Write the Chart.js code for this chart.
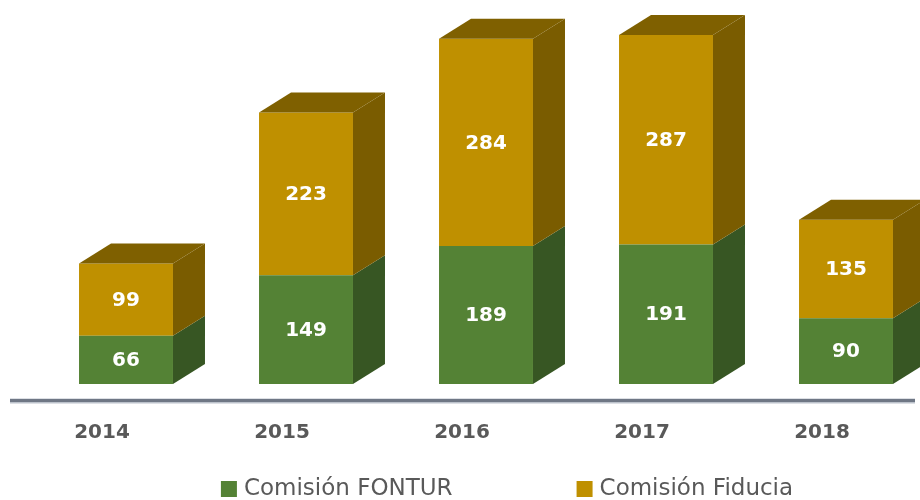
<!DOCTYPE html>
<html>
<head>
<meta charset="utf-8">
<script src="https://cdn.jsdelivr.net/npm/chart.js@4/dist/chart.umd.min.js"></script>
<style>
  html, body { margin: 0; padding: 0; background: #fff; overflow: hidden; }
</style>
</head>
<body>
<canvas id="cuadro" width="960" height="500"></canvas>
<script>
const years = ['2014', '2015', '2016', '2017', '2018'];
const fontur = [66, 149, 189, 191, 90];
const fiducia = [99, 223, 284, 287, 135];
const seriesNames = ['Comisión FONTUR', 'Comisión Fiducia'];

const frontColors = ['#548235', '#bf9000'];
const sideColors = ['#375623', '#7a5c00'];
const topColor = '#7f6000';
const depthX = 32, depthY = -20;

// caras laterales y superior para el efecto 3D
const cubos = {
  id: 'cubos',
  afterDatasetsDraw(chart) {
    const ctx = chart.ctx;
    const last = chart.data.datasets.length - 1;
    chart.data.datasets.forEach((ds, i) => {
      const meta = chart.getDatasetMeta(i);
      meta.data.forEach((bar) => {
        const p = bar.getProps(['x', 'y', 'base', 'width'], true);
        const left = p.x - p.width / 2, right = p.x + p.width / 2;
        ctx.save();
        ctx.fillStyle = sideColors[i];
        ctx.beginPath();
        ctx.moveTo(right, p.y);
        ctx.lineTo(right + depthX, p.y + depthY);
        ctx.lineTo(right + depthX, p.base + depthY);
        ctx.lineTo(right, p.base);
        ctx.closePath();
        ctx.fill();
        if (i === last) {
          ctx.fillStyle = topColor;
          ctx.beginPath();
          ctx.moveTo(left, p.y);
          ctx.lineTo(left + depthX, p.y + depthY);
          ctx.lineTo(right + depthX, p.y + depthY);
          ctx.lineTo(right, p.y);
          ctx.closePath();
          ctx.fill();
        }
        ctx.restore();
      });
    });

    // etiquetas de valor
    ctx.save();
    ctx.fillStyle = '#ffffff';
    ctx.font = 'bold 20px "DejaVu Sans"';
    ctx.textAlign = 'center';
    ctx.textBaseline = 'middle';
    chart.data.datasets.forEach((ds, i) => {
      chart.getDatasetMeta(i).data.forEach((bar, j) => {
        const p = bar.getProps(['x', 'y', 'base'], true);
        ctx.fillText(String(ds.data[j]), p.x, (p.y + p.base) / 2 + 1);
      });
    });
    ctx.restore();
  },
  afterDraw(chart) {
    const ctx = chart.ctx;
    const y = chart.chartArea.bottom + 17;
    ctx.save();
    ctx.strokeStyle = '#bcc2cb';
    ctx.lineWidth = 5;
    ctx.beginPath();
    ctx.moveTo(10, y);
    ctx.lineTo(915, y);
    ctx.stroke();
    ctx.strokeStyle = '#6f7785';
    ctx.lineWidth = 3;
    ctx.beginPath();
    ctx.moveTo(10, y - 0.5);
    ctx.lineTo(915, y - 0.5);
    ctx.stroke();

    // leyenda
    ctx.font = '23px "DejaVu Sans"';
    ctx.textBaseline = 'middle';
    const gap = 124, box = 16, pad = 7;
    const widths = seriesNames.map(n => box + pad + ctx.measureText(n).width);
    const total = widths[0] + widths[1] + gap;
    let x = 507 - total / 2;
    const cy = 489;
    seriesNames.forEach((n, i) => {
      ctx.fillStyle = frontColors[i];
      ctx.fillRect(x, cy - box / 2, box, box);
      ctx.fillStyle = '#595959';
      ctx.fillText(n, x + box + pad, cy);
      x += widths[i] + gap;
    });
    ctx.restore();
  }
};

new Chart(document.getElementById('cuadro'), {
  type: 'bar',
  data: {
    labels: years,
    datasets: [
      { label: seriesNames[0], data: fontur, backgroundColor: frontColors[0] },
      { label: seriesNames[1], data: fiducia, backgroundColor: frontColors[1] }
    ]
  },
  options: {
    responsive: false,
    animation: false,
    layout: { padding: { top: 19, left: 36, right: 24, bottom: 18 } },
    categoryPercentage: 1,
    barPercentage: 0.522,
    plugins: {
      legend: { display: false },
      tooltip: { enabled: false }
    },
    scales: {
      x: {
        stacked: true,
        grid: { display: false, drawTicks: false },
        border: { display: false },
        ticks: {
          padding: 37,
          labelOffset: -24,
          color: '#595959',
          font: { family: '"DejaVu Sans"', size: 20, weight: 'bold' }
        }
      },
      y: {
        stacked: true,
        display: false,
        min: 0,
        max: 500
      }
    }
  },
  plugins: [cubos]
});
</script>
</body>
</html>
